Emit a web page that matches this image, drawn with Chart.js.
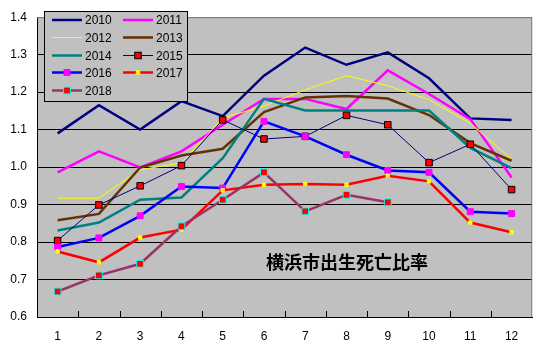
<!DOCTYPE html>
<html>
<head>
<meta charset="utf-8">
<script src="https://cdn.jsdelivr.net/npm/chart.js@4.4.0/dist/chart.umd.min.js"></script>
<style>
  html, body { margin: 0; padding: 0; background: #fff; }
  #wrap { width: 538px; height: 351px; }
</style>
</head>
<body>
<div id="wrap"><canvas id="chart_linea" width="538" height="351"></canvas></div>
<script>
// months on the x axis
var meses = ['1', '2', '3', '4', '5', '6', '7', '8', '9', '10', '11', '12'];
var anios = ['2010', '2011', '2012', '2013', '2014', '2015', '2016', '2017', '2018'];

// birth / death ratio, one array per year
var r2010 = [1.09, 1.165, 1.10, 1.176, 1.136, 1.244, 1.319, 1.273, 1.306, 1.237, 1.130, 1.126];
var r2011 = [0.986, 1.042, 0.999, 1.042, 1.113, 1.182, 1.182, 1.155, 1.258, 1.195, 1.128, 0.972];
var r2012 = [0.917, 0.917, 0.993, 1.011, 1.131, 1.163, 1.206, 1.244, 1.217, 1.180, 1.117, 1.021];
var r2013 = [0.858, 0.875, 0.999, 1.031, 1.049, 1.147, 1.186, 1.190, 1.183, 1.139, 1.064, 1.017];
var r2014 = [0.831, 0.852, 0.913, 0.919, 1.024, 1.182, 1.151, 1.151, 1.151, 1.151, 1.051, 0.997];
var r2015 = [0.804, 0.899, 0.950, 1.004, 1.126, 1.075, 1.082, 1.138, 1.113, 1.012, 1.061, 0.940];
var r2016 = [0.787, 0.811, 0.870, 0.948, 0.944, 1.122, 1.082, 1.033, 0.991, 0.986, 0.881, 0.876];
var r2017 = [0.775, 0.746, 0.812, 0.833, 0.938, 0.953, 0.955, 0.953, 0.977, 0.962, 0.852, 0.826];
var r2018 = [0.668, 0.711, 0.742, 0.842, 0.913, 0.986, 0.882, 0.926, 0.906, null, null, null];

var titulo = '横浜市出生死亡比率';

var valores = [r2010, r2011, r2012, r2013, r2014, r2015, r2016, r2017, r2018];
var colores = ['#000080', '#ff00ff', '#ffff00', '#663300', '#008080', '#000080', '#0000ff', '#ff0000', '#993366'];
var grosor = [2.5, 2.5, 1, 2.5, 2.5, 1, 2.5, 2.5, 2.5];
// marker: [fill, border, radius]
var marcas = [null, null, null, null, null,
    ['#ff0000', '#000000', 4.6],
    ['#ff00ff', '#ff00ff', 4.2],
    ['#ffff00', '#ffff00', 2.4],
    ['#ff0000', '#00ffff', 4.8]];

var datasets = [];
for (var i = 0; i < anios.length; i++) {
    var m = marcas[i];
    datasets.push({
        label: anios[i],
        data: valores[i],
        borderColor: colores[i],
        borderWidth: grosor[i],
        tension: 0,
        order: anios.length - i,   // later years on top, like Excel
        pointStyle: 'rect',
        pointRadius: m ? m[2] : 0,
        pointBackgroundColor: m ? m[0] : colores[i],
        pointBorderColor: m ? m[1] : colores[i],
        pointBorderWidth: m ? 1 : 0
    });
}

var fondo = {
    id: 'fondo',
    beforeDraw: function(chart) {
        var ctx = chart.ctx, a = chart.chartArea;
        ctx.save();
        ctx.fillStyle = '#c0c0c0';
        ctx.fillRect(a.left, a.top, a.right - a.left, a.bottom - a.top);
        ctx.restore();
    },
    beforeDatasetsDraw: function(chart) {
        var ctx = chart.ctx, a = chart.chartArea;
        ctx.save();
        // grey frame top / right
        ctx.strokeStyle = '#808080';
        ctx.lineWidth = 1;
        ctx.beginPath();
        ctx.moveTo(a.left, a.top + 0.5);
        ctx.lineTo(a.right - 0.5, a.top + 0.5);
        ctx.lineTo(a.right - 0.5, a.bottom);
        ctx.stroke();
        // inner tick marks between months
        var w = (a.right - a.left) / meses.length;
        ctx.strokeStyle = '#000';
        ctx.beginPath();
        for (var k = 1; k < meses.length; k++) {
            var x = Math.round(a.left + k * w) + 0.5;
            ctx.moveTo(x, a.bottom);
            ctx.lineTo(x, a.bottom - 6);
        }
        ctx.stroke();
        ctx.restore();
    },
    afterDatasetsDraw: function(chart) {
        var ctx = chart.ctx;
        ctx.save();
        // text inside the plot
        ctx.fillStyle = '#000';
        ctx.font = 'bold 18px "Noto Sans CJK JP"';
        ctx.textAlign = 'left';
        ctx.textBaseline = 'middle';
        ctx.fillText(titulo, 266, 262);

        // legend box
        var bx = 44, by = 11, bw = 143, bh = 90;
        ctx.fillStyle = '#c0c0c0';
        ctx.fillRect(bx, by, bw, bh);
        ctx.strokeStyle = '#000';
        ctx.lineWidth = 1;
        ctx.strokeRect(bx + 0.5, by + 0.5, bw, bh);
        ctx.font = '12px "Liberation Sans"';
        ctx.textBaseline = 'middle';
        var filas = [20, 37.5, 55.5, 72.5, 90.5];
        chart.data.datasets.forEach(function(ds, i) {
            var col = i % 2, fila = Math.floor(i / 2);
            var x0 = col ? 123 : 52, x1 = col ? 153 : 82, y = filas[fila];
            ctx.strokeStyle = ds.borderColor;
            ctx.lineWidth = ds.borderWidth;
            ctx.beginPath();
            ctx.moveTo(x0, y);
            ctx.lineTo(x1, y);
            ctx.stroke();
            if (ds.pointRadius) {
                var s = ds.pointRadius * Math.SQRT1_2;
                ctx.fillStyle = ds.pointBackgroundColor;
                ctx.fillRect((x0 + x1) / 2 - s, y - s, 2 * s, 2 * s);
                if (ds.pointBorderWidth) {
                    ctx.strokeStyle = ds.pointBorderColor;
                    ctx.lineWidth = 1;
                    ctx.strokeRect((x0 + x1) / 2 - s, y - s, 2 * s, 2 * s);
                }
            }
            ctx.fillStyle = '#000';
            ctx.fillText(ds.label, x1 + 3, y + 1);
        });
        ctx.restore();
    }
};

Chart.defaults.font.family = '"Liberation Sans", Arial, sans-serif';
Chart.defaults.font.size = 12;
Chart.defaults.color = '#000';

var canvas = document.getElementById('chart_linea').getContext('2d');
window.line = new Chart(canvas, {
    type: 'line',
    data: { labels: meses, datasets: datasets },
    plugins: [fondo],
    options: {
        responsive: false,
        animation: false,
        layout: { padding: { top: 17, right: 5, left: 0, bottom: 0 } },
        plugins: { legend: { display: false }, tooltip: { enabled: false } },
        scales: {
            x: {
                offset: true,
                grid: { display: false, drawTicks: false },
                border: { display: true, color: '#000', width: 1 },
                ticks: { padding: 12, maxRotation: 0 },
                afterFit: function(s) { s.height = 34; }
            },
            y: {
                min: 0.6,
                max: 1.4,
                ticks: {
                    stepSize: 0.1,
                    padding: 10,
                    callback: function(v) { return v.toFixed(1); }
                },
                grid: {
                    drawTicks: false,
                    color: function(c) { return c.tick && Math.abs(c.tick.value - 1.4) < 1e-6 ? '#808080' : '#000'; }
                },
                border: { display: true, color: '#000', width: 1 },
                afterFit: function(s) { s.width = 37; }
            }
        }
    }
});
</script>
</body>
</html>
